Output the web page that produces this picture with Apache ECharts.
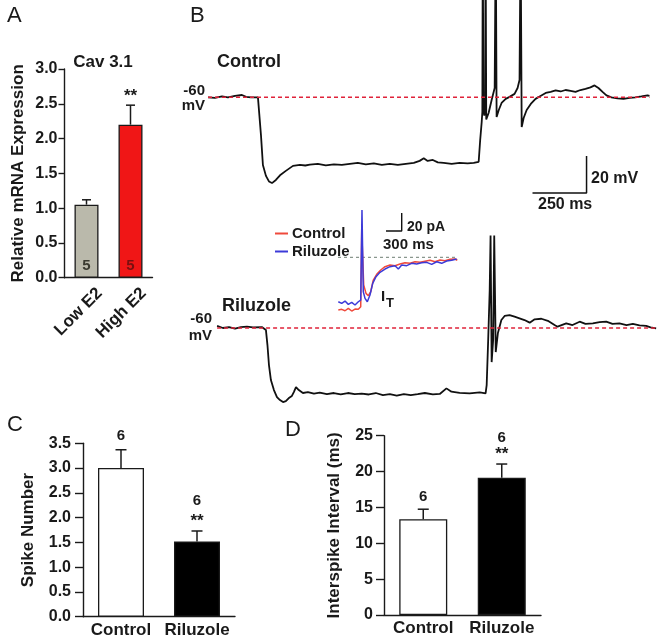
<!DOCTYPE html>
<html><head><meta charset="utf-8">
<script src="https://cdn.jsdelivr.net/npm/echarts@6/dist/echarts.min.js"></script>
<style>html,body{margin:0;padding:0;background:#fff}#c{width:667px;height:643px}</style>
</head><body><div id="c"></div>
<script>
// ---------- Panel A : Cav 3.1 relative mRNA expression ----------
const catsA = ['Low E2', 'High E2'];
const valsA = [1.05, 2.20];
const errsA = [0.07, 0.28];
const nA = ['5', '5'];
const sigA = ['', '**'];

// ---------- Panel C : spike number ----------
const catsC = ['Control', 'Riluzole'];
const valsC = [3.00, 1.52];
const errsC = [0.37, 0.21];
const nC = ['6', '6'];
const sigC = ['', '**'];

// ---------- Panel D : interspike interval (ms) ----------
const catsD = ['Control', 'Riluzole'];
const valsD = [13.35, 19.15];
const errsD = [1.40, 1.90];
const nD = ['6', '6'];
const sigD = ['', '**'];

// ---------- Panel B : membrane potential traces [ms, mV] ----------
const restMv = -60;
const ctrlTrace = [
[0,-60.1],[32,-60.4],[65,-59.6],[92,-60.1],[125,-59.3],[157,-58.8],[176,-59.8],[199,-60.1],[231,-60.1],
[236,-60.9],[245,-80.4],[254,-96.6],[268,-102.5],[282,-105.5],[296,-106.4],[314,-104.7],[333,-102.2],[360,-99.8],[393,-97.1],[425,-96.6],
[450,-96.9],[471,-96.4],[508,-96.0],[545,-96.8],[582,-96.3],[619,-96.6],[656,-96.0],[693,-95.5],[730,-96.3],[767,-95.7],[804,-96.6],
[841,-96.0],[878,-96.6],[915,-96.0],[952,-95.5],[979,-94.4],[998,-93.0],[1016,-94.4],[1040,-93.9],[1063,-95.2],[1090,-95.5],[1127,-96.0],
[1164,-95.5],[1201,-95.7],[1229,-95.5],[1252,-94.9],
[1259,-83.1],[1266,-73.4],[1269,-68],[1271,30],[1274,-67],[1278,-70],[1282,-66],[1284,30],[1287,-72],[1298,-68.5],[1312,-61.5],[1326,-55],
[1331,30],[1335,-70.7],[1345,-66.9],[1358,-63.1],[1377,-60.9],[1395,-59.8],[1418,-58.2],[1432,-55],[1441,-50.7],[1446,30],[1451,-76.1],
[1460,-71.2],[1474,-66.9],[1493,-63.6],[1515,-60.9],[1538,-59.3],[1562,-57.7],[1585,-57.1],[1608,-56.3],[1631,-56.9],[1654,-56.1],
[1677,-56.6],[1700,-57.1],[1723,-56.1],[1746,-55.5],[1769,-54.7],[1788,-53.6],[1806,-55],[1825,-57.1],[1843,-59],[1866,-60.1],[1894,-60.6],
[1922,-60.9],[1950,-60.4],[1977,-60.1],[2005,-59.6],[2033,-59],[2042,-59.3]
];
const rilTrace = [
[42,-58.9],[69,-60],[97,-59.5],[125,-60.3],[152,-59.5],[180,-59.2],[208,-59.7],[249,-59.5],[268,-61.1],[275,-69.2],[282,-80],[291,-88.1],
[305,-93.5],[319,-97.3],[333,-98.9],[347,-100],[360,-99.5],[374,-97.8],[388,-96.7],[397,-94.6],[407,-91.9],[420,-93.5],[439,-95.1],
[462,-94.6],[490,-95.4],[517,-94.9],[550,-95.7],[582,-95.1],[614,-95.9],[647,-95.1],[679,-95.7],[711,-95.4],[744,-95.9],[776,-95.1],
[809,-96.2],[841,-95.7],[873,-96.5],[906,-95.7],[938,-96.2],[970,-95.7],[1003,-95.1],[1040,-95.8],[1072,-95.6],[1103,-92.6],[1126,-94.4],
[1164,-95],[1210,-95.3],[1257,-94.8],[1284,-95.3],
[1289,-90.8],[1296,-66.5],[1303,-39.5],[1307,-10],[1312,-78.4],[1319,-66.5],[1324,-10],[1331,-73],[1341,-62.7],[1357,-55.7],[1372,-53.5],
[1395,-53],[1418,-53.9],[1441,-54.8],[1464,-55.7],[1488,-57.1],[1511,-55.3],[1542,-55],[1572,-56.1],[1603,-58.4],[1617,-59.3],[1657,-57.5],
[1686,-58.4],[1719,-56.6],[1746,-57.8],[1780,-57.5],[1811,-56.8],[1842,-56.6],[1871,-57.8],[1903,-57.5],[1936,-58.4],[1965,-57.8],
[1996,-58.6],[2027,-58.9],[2047,-59.7],[2073,-60.2]
];
const scaleMs = 250, scaleMv = 20;

// ---------- Inset : I_T currents [ms, pA relative to baseline] ----------
const insetCtrl = [
[6,-58.5],[71,-57.7],[134,-59.3],[197,-56.6],[262,-59.6],[325,-57.4],[388,-57.7],[434,-54.8],[453,30.3],[491,-30.7],[535,-40],[579,-42.6],
[625,-38.2],[674,-25.2],[739,-18.9],[816,-14.1],[898,-10.4],[993,-8.5],[1089,-9.3],[1184,-7.4],[1280,-6],[1375,-6.7],[1471,-4.9],
[1566,-5.6],[1662,-4.4],[1757,-3.3],[1853,-4.9],[1948,-3],[2044,-3.8],[2139,-2.2],[2235,-1.9],[2279,-3.3]
];
const insetRil = [
[6,-49.3],[71,-51.1],[134,-48.5],[197,-52.2],[262,-50],[325,-52.9],[388,-49.3],[434,-47.4],[458,52.5],[483,-38.2],[516,-45.5],[560,-49.3],
[611,-41.8],[663,-28.9],[726,-21.5],[802,-16.7],[898,-13],[993,-10.4],[1089,-9.3],[1152,-13],[1217,-8.5],[1312,-9.3],[1408,-6.7],
[1503,-7.4],[1599,-6],[1694,-5.6],[1790,-7.8],[1885,-4.9],[1981,-6.7],[2076,-4.1],[2172,-3.3],[2267,-1.9]
];
const insetScaleMs = 300, insetScalePa = 20;

// =================== chart ===================
const FF = '"Liberation Sans", Arial, Helvetica, sans-serif';
const INK = '#1a1a1a';
const chart = echarts.init(document.getElementById('c'), null, {renderer: 'canvas'});

function barYAxis(gridIndex, max, interval, name, nameGap, decimals, tickLen, margin) {
  return {
    type: 'value', gridIndex, min: 0, max, interval,
    name, nameLocation: 'middle', nameRotate: 90, nameGap,
    nameTextStyle: {fontFamily: FF, fontWeight: 'bold', fontSize: 17, color: INK},
    axisLine: {show: true, lineStyle: {color: INK, width: 1.4}},
    axisTick: {show: true, length: tickLen, lineStyle: {color: INK, width: 1.4}},
    axisLabel: {fontFamily: FF, fontWeight: 'bold', fontSize: 16, color: INK, margin,
      formatter: v => v.toFixed(decimals)},
    splitLine: {show: false}
  };
}
function barXAxis(gridIndex, cats, extra) {
  return Object.assign({
    type: 'category', gridIndex, data: cats,
    axisLine: {show: true, lineStyle: {color: INK, width: 1.4}},
    axisTick: {show: false},
    axisLabel: {fontFamily: FF, fontWeight: 'bold', fontSize: 17, color: INK, margin: 5, interval: 0}
  }, extra || {});
}
function errSeries(axisIdx, vals, errs, nArr, sigArr, cap, nGapPlain, sigGap, nGapSig) {
  return {
    type: 'custom', xAxisIndex: axisIdx, yAxisIndex: axisIdx, z: 5,
    data: vals.map((v, i) => [i, v, errs[i]]),
    renderItem: (params, api) => {
      const i = params.dataIndex;
      const x = api.value(0), v = api.value(1), e = api.value(2);
      const p0 = api.coord([x, v]);
      const p1 = api.coord([x, v + e]);
      const st = {stroke: INK, lineWidth: 1.5};
      const ch = [
        {type: 'line', shape: {x1: p0[0], y1: p0[1], x2: p1[0], y2: p1[1]}, style: st},
        {type: 'line', shape: {x1: p1[0] - cap / 2, y1: p1[1], x2: p1[0] + cap / 2, y2: p1[1]}, style: st}
      ];
      const font = 'bold 15px ' + FF;
      if (sigArr[i]) {
        ch.push({type: 'text', style: {text: sigArr[i], x: p1[0], y: p1[1] - sigGap, align: 'center', verticalAlign: 'middle', font: 'bold 17px ' + FF, fill: INK}});
        if (nArr && nArr[i]) ch.push({type: 'text', style: {text: nArr[i], x: p1[0], y: p1[1] - nGapSig, align: 'center', verticalAlign: 'middle', font, fill: INK}});
      } else if (nArr && nArr[i]) {
        ch.push({type: 'text', style: {text: nArr[i], x: p1[0], y: p1[1] - nGapPlain, align: 'center', verticalAlign: 'middle', font, fill: INK}});
      }
      return {type: 'group', children: ch};
    }
  };
}
function hiddenVal(gridIndex, min, max) {
  return {type: 'value', gridIndex, min, max, show: false, splitLine: {show: false}};
}
function txt(text, x, y, size, opts) {
  opts = opts || {};
  return {type: 'text', z: 50, style: {text, x, y, font: (opts.bold === false ? '' : 'bold ') + size + 'px ' + FF,
    fill: opts.fill || INK, align: opts.align || 'left', verticalAlign: 'middle'}};
}

const colorsA = ['#bab9ab', '#f01616'];
const nColorsA = ['#3a3a30', '#7a1010'];
const colorsCD = ['#ffffff', '#000000'];

const ctrlEnd = ctrlTrace[ctrlTrace.length - 1][0];
const rilStart = rilTrace[0][0], rilEnd = rilTrace[rilTrace.length - 1][0];
const inEnd = insetCtrl[insetCtrl.length - 1][0];

// scale bar anchors (data coordinates of the trace axes)
const sbT = 1751, sbV = -111.7;
const isT = 1217, isI = 29.2;

const option = {
  animation: false,
  backgroundColor: '#ffffff',
  grid: [
    {left: 64.5, top: 69, width: 88, height: 208.7},      // A
    {left: 208, top: 1, width: 454, height: 198},         // B control
    {left: 208, top: 228, width: 454, height: 192.6},     // B riluzole
    {left: 338, top: 205, width: 120, height: 110},       // inset
    {left: 83, top: 443.3, width: 152, height: 173.4},    // C
    {left: 384, top: 435.7, width: 157, height: 179.3}    // D
  ],
  xAxis: [
    barXAxis(0, catsA, {axisLabel: {fontFamily: FF, fontWeight: 'bold', fontSize: 17, color: INK, margin: 0, rotate: 45, interval: 0,
      verticalAlign: 'top', padding: [10, 0, 0, 0]}}),
    {type: 'value', gridIndex: 1, min: 0, max: 2100, show: false, splitLine: {show: false}},
    {type: 'value', gridIndex: 2, min: 0, max: 2100, show: false, splitLine: {show: false}},
    {type: 'value', gridIndex: 3, min: 0, max: 2292, show: false, splitLine: {show: false}},
    barXAxis(4, catsC),
    barXAxis(5, catsD)
  ],
  yAxis: [
    barYAxis(0, 3, 0.5, 'Relative mRNA Expression', 38, 1, 6, 7),
    hiddenVal(1, -115, -8),
    hiddenVal(2, -110, -6),
    hiddenVal(3, -64, 58),
    barYAxis(4, 3.5, 0.5, 'Spike Number', 46, 1, 8, 12),
    barYAxis(5, 25, 5, 'Interspike Interval (ms)', 41, 0, 8, 11)
  ],
  legend: {
    data: [{name: 'Control', icon: 'rect'}, {name: 'Riluzole', icon: 'rect'}],
    orient: 'vertical', left: 275, top: 226, itemWidth: 13, itemHeight: 2, itemGap: 3, padding: 0,
    selectedMode: false,
    textStyle: {fontFamily: FF, fontWeight: 'bold', fontSize: 15, color: INK, padding: [0, 0, 0, -1]}
  },
  series: [
    // ---- A ----
    {type: 'bar', xAxisIndex: 0, yAxisIndex: 0, barWidth: 24,
      data: valsA.map((v, i) => ({value: v, itemStyle: {color: colorsA[i], borderColor: INK, borderWidth: 1.3},
        label: {show: true, position: 'insideBottom', distance: 4, formatter: nA[i], color: nColorsA[i],
          fontFamily: FF, fontWeight: 'bold', fontSize: 15}}))},
    errSeries(0, valsA, errsA, null, sigA, 9, 12, 9, 30),
    // ---- B control ----
    {name: 'Control trace', type: 'line', xAxisIndex: 1, yAxisIndex: 1, data: ctrlTrace, showSymbol: false, clip: true,
      lineStyle: {color: '#111', width: 1.8}, silent: true},
    {name: 'Control rest', type: 'line', xAxisIndex: 1, yAxisIndex: 1, data: [[0, restMv], [ctrlEnd, restMv]], showSymbol: false,
      lineStyle: {color: '#e0233a', width: 1.6, type: [4, 3]}, silent: true},
    {name: 'scale', type: 'line', xAxisIndex: 1, yAxisIndex: 1, showSymbol: false, silent: true,
      data: [[sbT - scaleMs, sbV], [sbT, sbV], [sbT, sbV + scaleMv]], lineStyle: {color: '#111', width: 1.5}},
    // ---- B riluzole ----
    {name: 'Riluzole trace', type: 'line', xAxisIndex: 2, yAxisIndex: 2, data: rilTrace, showSymbol: false, clip: true,
      lineStyle: {color: '#111', width: 1.8}, silent: true},
    {name: 'Riluzole rest', type: 'line', xAxisIndex: 2, yAxisIndex: 2, data: [[rilStart, restMv], [rilEnd, restMv]], showSymbol: false,
      lineStyle: {color: '#e0233a', width: 1.6, type: [4, 3]}, silent: true},
    // ---- inset ----
    {name: 'baseline', type: 'line', xAxisIndex: 3, yAxisIndex: 3, data: [[0, 0], [inEnd, 0]], showSymbol: false,
      lineStyle: {color: '#8a978e', width: 1.3, type: [3, 3]}, silent: true},
    {name: 'Control', type: 'line', xAxisIndex: 3, yAxisIndex: 3, data: insetCtrl, showSymbol: false,
      itemStyle: {color: '#ef4a3c'}, lineStyle: {color: '#ef4a3c', width: 1.5}, silent: true},
    {name: 'Riluzole', type: 'line', xAxisIndex: 3, yAxisIndex: 3, data: insetRil, showSymbol: false,
      itemStyle: {color: '#3c3ad8'}, lineStyle: {color: '#3c3ad8', width: 1.5}, silent: true},
    {name: 'inset scale', type: 'line', xAxisIndex: 3, yAxisIndex: 3, showSymbol: false, silent: true,
      data: [[isT - insetScaleMs, isI], [isT, isI], [isT, isI + insetScalePa]], lineStyle: {color: '#111', width: 1.4}},
    // ---- C ----
    {type: 'bar', xAxisIndex: 4, yAxisIndex: 4, barWidth: 46,
      data: valsC.map((v, i) => ({value: v, itemStyle: {color: colorsCD[i], borderColor: INK, borderWidth: 1.3}}))},
    errSeries(4, valsC, errsC, nC, sigC, 11, 14, 10, 30),
    // ---- D ----
    {type: 'bar', xAxisIndex: 5, yAxisIndex: 5, barWidth: 48,
      data: valsD.map((v, i) => ({value: v, itemStyle: {color: colorsCD[i], borderColor: INK, borderWidth: 1.3}}))},
    errSeries(5, valsD, errsD, nD, sigD, 11, 12, 10, 26)
  ],
  graphic: [
    txt('A', 7, 16, 22, {bold: false}),
    txt('B', 190, 16, 22, {bold: false}),
    txt('C', 7, 425, 22, {bold: false}),
    txt('D', 285, 430, 22, {bold: false}),
    txt('Cav 3.1', 103, 62.5, 17, {align: 'center'}),
    txt('Control', 217, 62.5, 18),
    txt('-60', 205, 91, 15, {align: 'right'}),
    txt('mV', 205, 106, 15, {align: 'right'}),
    txt('20 mV', 591, 179, 16),
    txt('250 ms', 538, 204.5, 16),
    txt('Riluzole', 222, 306.5, 18),
    txt('-60', 212, 319, 15, {align: 'right'}),
    txt('mV', 212, 336, 15, {align: 'right'}),
    txt('20 pA', 407, 227, 14),
    txt('300 ms', 383, 244.5, 15),
    txt('I', 381, 297, 15),
    txt('T', 386, 303, 13)
  ]
};
chart.setOption(option);
</script></body></html>
